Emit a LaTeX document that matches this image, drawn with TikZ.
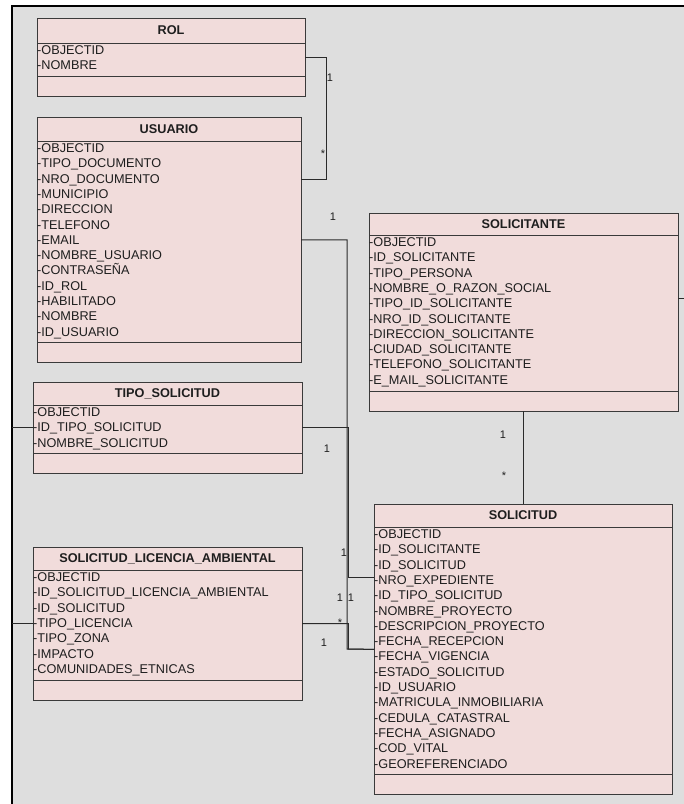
\documentclass[tikz,border=0pt]{standalone}
\usepackage{fontspec}
\setmainfont{Liberation Sans}
\definecolor{canvas}{HTML}{DEDEDE}
\definecolor{boxfill}{HTML}{F1DCDB}
\definecolor{boxline}{HTML}{3A3A3A}
\definecolor{ink}{HTML}{1E1E1E}
\definecolor{connline}{HTML}{2A2A2A}

% UML class: name, left, top, right, header height, title, number of rows, rows
\newcommand{\umlclass}[8]{%
  \pgfmathsetmacro{\clsw}{#4-#2}%
  \pgfmathsetmacro{\clsh}{#5+15.3*#7+23}%
  \pgfmathsetmacro{\clshd}{#3+#5}%
  \pgfmathsetmacro{\clssep}{#3+#5+15.3*#7+3}%
  \node[classbox, minimum width=\clsw pt, minimum height=\clsh pt, anchor=north west] (#1) at (#2,#3) {};
  \draw[classline] (#2,\clshd) -- (#4,\clshd) (#2,\clssep) -- (#4,\clssep);
  \node[classtitle, anchor=base] (#1-title) at ({(#2+#4)/2},{#3+#5/2+4}) {#6};
  \foreach \attrtext [count=\i from 0] in {#8} {
    \node[attr, anchor=base west] (#1-a\i) at (#2,{\clshd+11.5+15.3*\i}) {\attrtext};
  }%
}

\begin{document}
\begin{tikzpicture}[x=1pt,y=-1pt,
  classbox/.style={draw=boxline, fill=boxfill, line width=1pt, inner sep=0pt, outer sep=0pt},
  classline/.style={draw=boxline, line width=1pt},
  classtitle/.style={font=\bfseries\fontsize{12.7}{15}\selectfont, text=ink, inner sep=0pt},
  attr/.style={font=\fontsize{12.7}{15}\selectfont, text=ink, inner sep=0pt},
  mult/.style={font=\fontsize{11}{13}\selectfont, text=ink, inner sep=0pt},
  conn/.style={draw=connline, line width=1pt},
  frame/.style={draw=black, line width=2pt}]
\useasboundingbox (0,0) rectangle (684,804);
\fill[white] (0,0) rectangle (684,804);
\fill[canvas] (12,6) rectangle (684,804);
\coordinate (fnw) at (12,6);
\draw[frame] (684,6) -- (fnw) -- (12,804);

\umlclass{rol}{37}{18}{305}{25}{ROL}{2}{-OBJECTID,-NOMBRE}
\umlclass{usuario}{37}{117}{301}{24}{USUARIO}{13}{-OBJECTID,-TIPO\_DOCUMENTO,-NRO\_DOCUMENTO,-MUNICIPIO,-DIRECCION,-TELEFONO,-EMAIL,-NOMBRE\_USUARIO,-CONTRASEÑA,-ID\_ROL,-HABILITADO,-NOMBRE,-ID\_USUARIO}
\umlclass{tipo}{33}{382}{302}{23}{TIPO\_SOLICITUD}{3}{-OBJECTID,-ID\_TIPO\_SOLICITUD,-NOMBRE\_SOLICITUD}
\umlclass{sla}{33}{547}{302}{23}{SOLICITUD\_LICENCIA\_AMBIENTAL}{7}{-OBJECTID,-ID\_SOLICITUD\_LICENCIA\_AMBIENTAL,-ID\_SOLICITUD,-TIPO\_LICENCIA,-TIPO\_ZONA,-IMPACTO,-COMUNIDADES\_ETNICAS}
\umlclass{solicitante}{369}{213}{678}{22}{SOLICITANTE}{10}{-OBJECTID,-ID\_SOLICITANTE,-TIPO\_PERSONA,-NOMBRE\_O\_RAZON\_SOCIAL,-TIPO\_ID\_SOLICITANTE,-NRO\_ID\_SOLICITANTE,-DIRECCION\_SOLICITANTE,-CIUDAD\_SOLICITANTE,-TELEFONO\_SOLICITANTE,-E\_MAIL\_SOLICITANTE}
\umlclass{solicitud}{374}{504}{672}{23}{SOLICITUD}{16}{-OBJECTID,-ID\_SOLICITANTE,-ID\_SOLICITUD,-NRO\_EXPEDIENTE,-ID\_TIPO\_SOLICITUD,-NOMBRE\_PROYECTO,-DESCRIPCION\_PROYECTO,-FECHA\_RECEPCION,-FECHA\_VIGENCIA,-ESTADO\_SOLICITUD,-ID\_USUARIO,-MATRICULA\_INMOBILIARIA,-CEDULA\_CATASTRAL,-FECHA\_ASIGNADO,-COD\_VITAL,-GEOREFERENCIADO}

% bend points of the connectors
\coordinate (ruB) at (326,179);
\coordinate (busA) at (347,649);
\coordinate (busB) at (348.4,577);
\coordinate (busC) at (348.4,649);
\coordinate (fne) at (684,298);

% ROL - USUARIO
\draw[conn] (rol.east) -| (ruB) -- (usuario.east |- ruB);
% USUARIO - SOLICITUD
\draw[conn] (usuario.east) -| (busA) -- (solicitud.west);
% TIPO_SOLICITUD - SOLICITUD
\draw[conn] (tipo.east) -| (busB) -- (solicitud.west |- busB);
% SOLICITUD_LICENCIA_AMBIENTAL - SOLICITUD
\draw[conn] (sla.east) -| (busC) -- (solicitud.west);
% SOLICITANTE - SOLICITUD
\draw[conn] (solicitante.south) -- (solicitante.south |- solicitud.north);
% connectors leaving the frame
\draw[conn] (tipo.west) -- (tipo.west -| fnw);
\draw[conn] (sla.west) -- (sla.west -| fnw);
\draw[conn] (solicitante.east |- fne) -- (fne);

% multiplicities
\node[mult] (m1) at (330,78) {1};
\node[mult] (m2) at (323,154) {*};
\node[mult] (m3) at (333,217) {1};
\node[mult] (m4) at (327,449) {1};
\node[mult] (m5) at (344,553) {1};
\node[mult] (m6) at (340,598) {1};
\node[mult] (m7) at (351,598) {1};
\node[mult] (m8) at (340,623) {*};
\node[mult] (m9) at (324,643) {1};
\node[mult] (m10) at (503,435) {1};
\node[mult] (m11) at (504,476) {*};
\end{tikzpicture}
\end{document}
